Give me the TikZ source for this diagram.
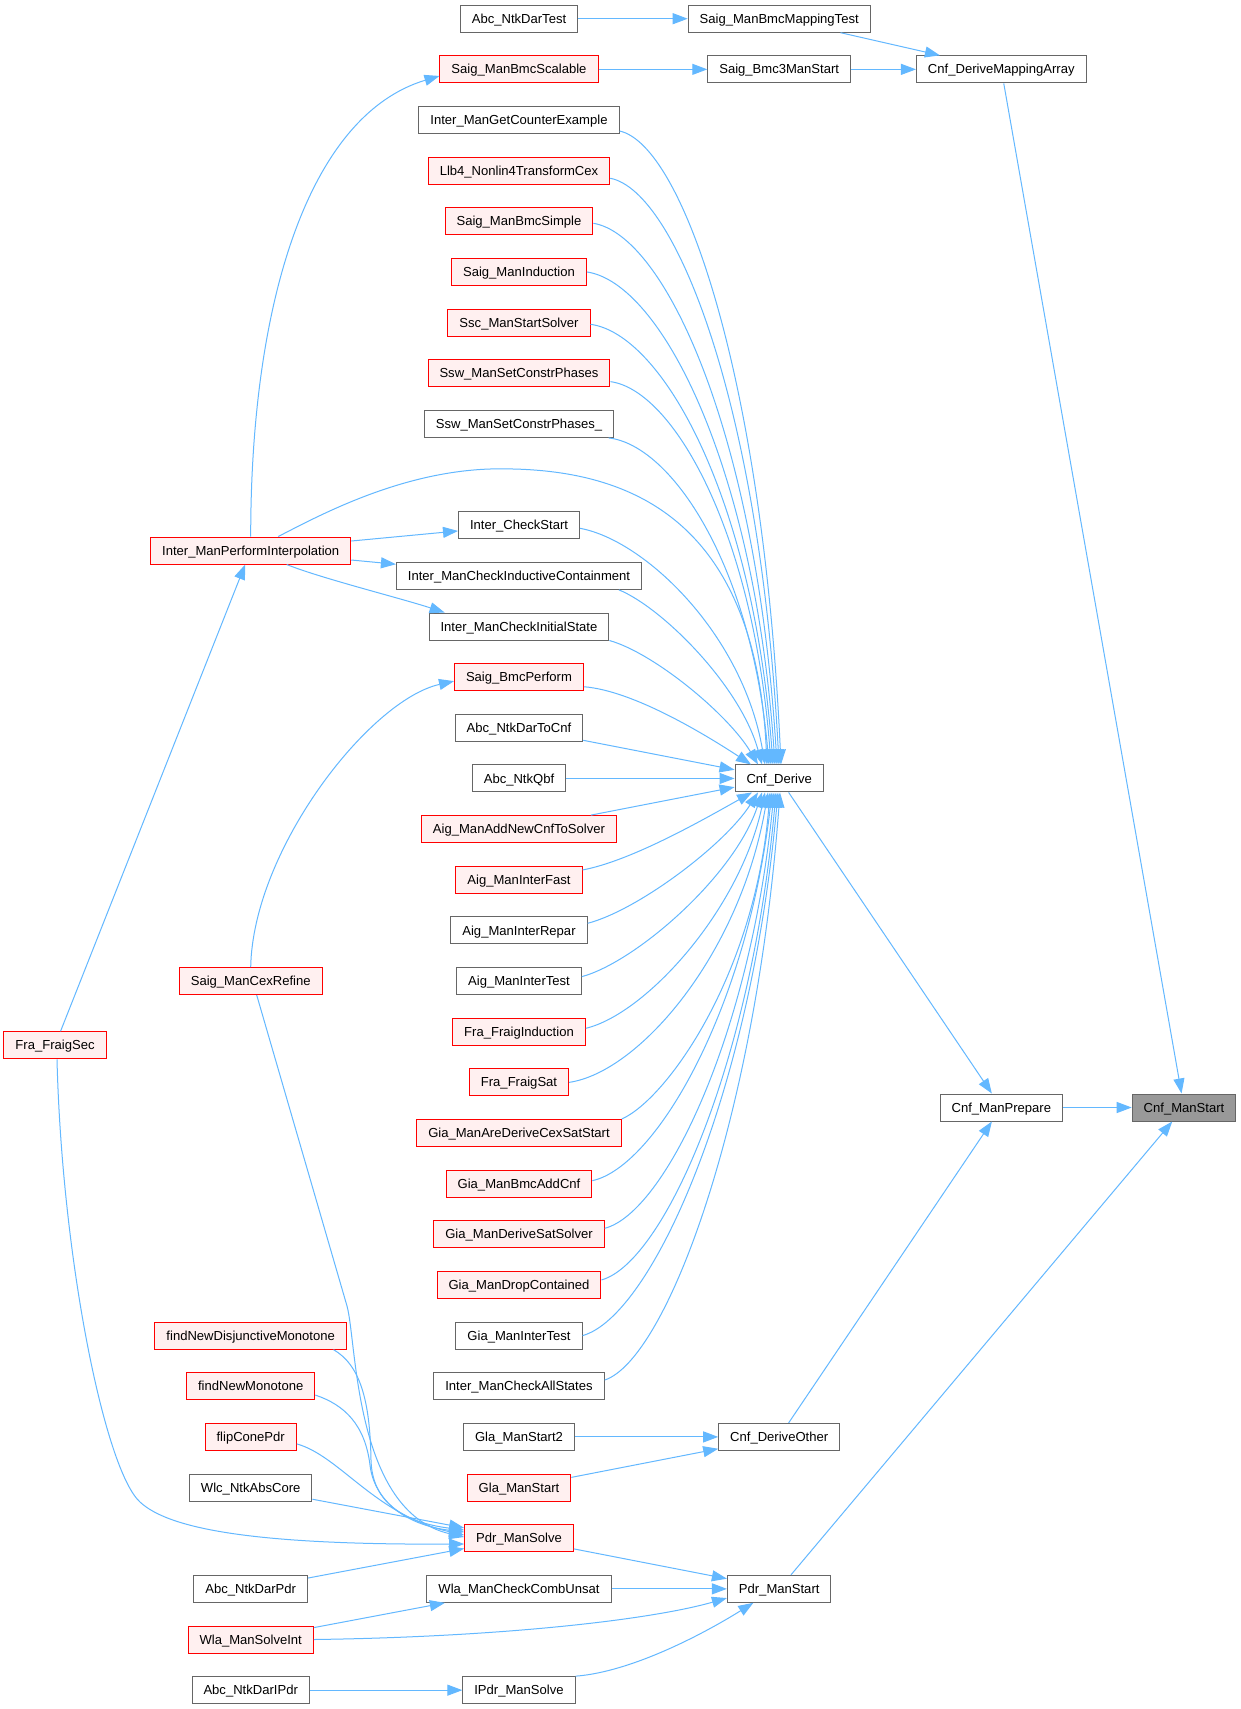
\documentclass[tikz,border=0pt]{standalone}
\usepackage{fontspec}
\setmainfont{Liberation Sans}
\usetikzlibrary{arrows.meta}
\definecolor{edgec}{HTML}{63B8FF}
\definecolor{bgray}{HTML}{666666}
\definecolor{redb}{HTML}{FF0000}
\definecolor{redf}{HTML}{FFF0F0}
\definecolor{rootf}{HTML}{999999}
\begin{document}
\begin{tikzpicture}[x=0.5pt,y=-0.5pt,
  box/.style={draw=bgray, line width=0.5pt, fill=white, font=\fontsize{6.53}{7.8}\selectfont,
    inner xsep=5.75pt, inner ysep=0pt, minimum height=13.5pt, text height=5.2pt, text depth=0.6pt},
  redbox/.style={box, draw=redb, fill=redf},
  rootbox/.style={box, fill=rootf},
  edg/.style={draw=edgec, line width=0.5pt, -{Triangle[length=7.5pt,width=5.5pt]}}]
\fill[white] (0,0) rectangle (1241,1709);
\useasboundingbox (0,0) rectangle (1241,1709);

% column C (x=519)
\node[box]    (adt)   at (519,18.7)    {Abc\_NtkDarTest};
\node[redbox] (sbs)   at (519,69.35)   {Saig\_ManBmcScalable};
\node[box]    (igce)  at (519,120.0)   {Inter\_ManGetCounterExample};
\node[redbox] (llb)   at (519,170.65)  {Llb4\_Nonlin4TransformCex};
\node[redbox] (sbsim) at (519,221.3)   {Saig\_ManBmcSimple};
\node[redbox] (sind)  at (519,271.95)  {Saig\_ManInduction};
\node[redbox] (ssc)   at (519,322.6)   {Ssc\_ManStartSolver};
\node[redbox] (sswa)  at (519,373.25)  {Ssw\_ManSetConstrPhases};
\node[box]    (sswb)  at (519,423.9)   {Ssw\_ManSetConstrPhases\_};
\node[box]    (ics)   at (519,525.2)   {Inter\_CheckStart};
\node[box]    (icic)  at (519,575.85)  {Inter\_ManCheckInductiveContainment};
\node[box]    (icis)  at (519,626.5)   {Inter\_ManCheckInitialState};
\node[redbox] (sbp)   at (519,677.15)  {Saig\_BmcPerform};
\node[box]    (adtc)  at (519,727.8)   {Abc\_NtkDarToCnf};
\node[box]    (aqbf)  at (519,778.45)  {Abc\_NtkQbf};
\node[redbox] (aanc)  at (519,829.1)   {Aig\_ManAddNewCnfToSolver};
\node[redbox] (aif)   at (519,879.75)  {Aig\_ManInterFast};
\node[box]    (air)   at (519,930.4)   {Aig\_ManInterRepar};
\node[box]    (ait)   at (519,981.05)  {Aig\_ManInterTest};
\node[redbox] (ffi)   at (519,1031.7)  {Fra\_FraigInduction};
\node[redbox] (fsat)  at (519,1082.35) {Fra\_FraigSat};
\node[redbox] (gad)   at (519,1133.0)  {Gia\_ManAreDeriveCexSatStart};
\node[redbox] (gbac)  at (519,1183.65) {Gia\_ManBmcAddCnf};
\node[redbox] (gdss)  at (519,1234.3)  {Gia\_ManDeriveSatSolver};
\node[redbox] (gdc)   at (519,1284.95) {Gia\_ManDropContained};
\node[box]    (git)   at (519,1335.6)  {Gia\_ManInterTest};
\node[box]    (icas)  at (519,1386.25) {Inter\_ManCheckAllStates};
\node[box]    (gls2)  at (519,1436.9)  {Gla\_ManStart2};
\node[redbox] (gls)   at (519,1487.55) {Gla\_ManStart};
\node[redbox] (pms)   at (519,1538.2)  {Pdr\_ManSolve};
\node[box]    (wcc)   at (519,1588.85) {Wla\_ManCheckCombUnsat};
\node[box]    (ipdr)  at (519,1690.15) {IPdr\_ManSolve};

% column B (x=250.7)
\node[redbox] (imp)   at (250.7,550.5)   {Inter\_ManPerformInterpolation};
\node[redbox] (scr)   at (250.7,981.05)  {Saig\_ManCexRefine};
\node[redbox] (fndm)  at (250.7,1335.6)  {findNewDisjunctiveMonotone};
\node[redbox] (fnm)   at (250.7,1386.25) {findNewMonotone};
\node[redbox] (fcp)   at (250.7,1436.9)  {flipConePdr};
\node[box]    (wac)   at (250.7,1487.55) {Wlc\_NtkAbsCore};
\node[box]    (adp)   at (250.7,1588.85) {Abc\_NtkDarPdr};
\node[redbox] (wsi)   at (250.7,1639.5)  {Wla\_ManSolveInt};
\node[box]    (adip)  at (250.7,1690.15) {Abc\_NtkDarIPdr};

% column A
\node[redbox] (ffs)   at (55,1045.3) {Fra\_FraigSec};

% column D (x=779.2)
\node[box] (smbmt) at (779.2,18.7)    {Saig\_ManBmcMappingTest};
\node[box] (sb3)   at (779.2,69.35)   {Saig\_Bmc3ManStart};
\node[box] (cd)    at (779.2,778.45)  {Cnf\_Derive};
\node[box] (cdo)   at (779.2,1436.9)  {Cnf\_DeriveOther};
\node[box] (pst)   at (779.2,1588.85) {Pdr\_ManStart};

% column E, F
\node[box]     (cdma) at (1001.3,69.35)  {Cnf\_DeriveMappingArray};
\node[box]     (cmp)  at (1001.3,1107.5) {Cnf\_ManPrepare};
\node[rootbox] (cms)  at (1184,1107.5)   {Cnf\_ManStart};

% straight connectors
\draw[edg] (adt) -- (smbmt);
\draw[edg] (smbmt) -- (cdma);
\draw[edg] (sbs) -- (sb3);
\draw[edg] (sb3) -- (cdma);
\draw[edg] (cdma) -- (cms);
\draw[edg] (imp) -- (ics);
\draw[edg] (imp) -- (icic);
\draw[edg] (adtc) -- (cd);
\draw[edg] (aqbf) -- (cd);
\draw[edg] (aanc) -- (cd);
\draw[edg] (cd) -- (cmp);
\draw[edg] (cmp) -- (cms);
\draw[edg] (ffs) -- (imp);
\draw[edg] (gls2) -- (cdo);
\draw[edg] (gls) -- (cdo);
\draw[edg] (cdo) -- (cmp);
\draw[edg] (wac) -- (pms);
\draw[edg] (adp) -- (pms);
\draw[edg] (pms) -- (pst);
\draw[edg] (wcc) -- (pst);
\draw[edg] (wsi) -- (wcc);
\draw[edg] (adip) -- (ipdr);
\draw[edg] (pst) -- (cms);

% upper curves into Cnf_Derive
\draw[edg] ([yshift=-5.5pt]igce.east) .. controls +(63.5,14) and +(-17.9,-386.7) .. ([xshift=0.9pt]cd.north);
\draw[edg] ([yshift=-3.8pt]llb.east) .. controls +(66.2,12.9) and +(-18.7,-357.9) .. ([xshift=-0.1pt]cd.north);
\draw[edg] ([yshift=-1pt]sbsim.east) .. controls +(71.9,11.9) and +(-20.3,-330.4) .. ([xshift=-1.1pt]cd.north);
\draw[edg] (sind.east) .. controls +(73.8,10.8) and +(-20.8,-300.3) .. ([xshift=-2.1pt]cd.north);
\draw[edg] ([yshift=-0.85pt]ssc.east) .. controls +(71.4,9.7) and +(-20.1,-268.8) .. ([xshift=-3.1pt]cd.north);
\draw[edg] ([yshift=-4.2pt]sswa.east) .. controls +(62.5,8.4) and +(-17.6,-233.8) .. ([xshift=-4.1pt]cd.north);
\draw[edg] ([xshift=-2.75pt]sswb.south east) .. controls +(62.8,7.2) and +(-17.7,-199.9) .. ([xshift=-5.1pt]cd.north);
\draw[edg] ([xshift=13.8pt]imp.north) .. controls (320,515) and (400,472) .. (490,469) .. controls (620,466) and (755,510) .. ([xshift=-6.1pt]cd.north);
\draw[edg] ([yshift=-1.55pt]ics.east) .. controls +(64.75,11.8) and +(-22.2,-130.2) .. ([xshift=-7.1pt]cd.north);
\draw[edg] ([xshift=-11.6pt]icic.south east) .. controls +(43.1,17.5) and +(-21.6,-78.75) .. ([xshift=-8.6pt]cd.north);
\draw[edg] (icis.south east) .. controls +(44.6,12.5) and +(-29.7,-50) .. ([xshift=-10.6pt]cd.north);
\draw[edg] ([yshift=-4.8pt]sbp.east) .. controls +(50.5,3.9) and +(-42.1,-27.5) .. ([xshift=-14.1pt]cd.north);

% lower curves into Cnf_Derive
\draw[edg] ([yshift=4.9pt]aif.east) .. controls +(50.7,-9.4) and +(-42.25,23.4) .. ([xshift=-13.6pt]cd.south);
\draw[edg] ([yshift=3.55pt]air.east) .. controls +(50.3,-13.1) and +(-33.5,52.5) .. ([xshift=-10.6pt]cd.south);
\draw[edg] ([yshift=2.2pt]ait.east) .. controls +(54.3,-14.8) and +(-27.2,83.1) .. ([xshift=-8.6pt]cd.south);
\draw[edg] ([yshift=1.7pt]ffi.east) .. controls +(59.7,-14.2) and +(-25.3,118.1) .. ([xshift=-7.1pt]cd.south);
\draw[edg] (fsat.east) .. controls +(70,-10.1) and +(-28,162.2) .. ([xshift=-5.6pt]cd.south);
\draw[edg] (gad.north east) .. controls +(44.5,-19.6) and +(-14.8,183.3) .. ([xshift=-4.6pt]cd.south);
\draw[edg] ([yshift=1.5pt]gbac.east) .. controls +(63.1,-13.6) and +(-25.2,217.7) .. ([xshift=-3.6pt]cd.south);
\draw[edg] ([yshift=3pt]gdss.east) .. controls +(59.7,-15.3) and +(-23.9,244.3) .. ([xshift=-2.6pt]cd.south);
\draw[edg] ([yshift=2.5pt]gdc.east) .. controls +(61.8,-17.1) and +(-24.7,273.3) .. ([xshift=-1.6pt]cd.south);
\draw[edg] (git.east) .. controls +(68.7,-19) and +(-27.5,304.1) .. ([xshift=-0.6pt]cd.south);
\draw[edg] ([yshift=3.1pt]icas.east) .. controls +(61.5,-20.6) and +(-24.6,329.3) .. ([xshift=0.4pt]cd.south);

% other curves
\draw[edg] (imp.north) .. controls +(0,-237) and +(-130,39) .. ([yshift=-3.3pt]sbs.west);
\draw[edg] ([xshift=18pt]imp.south) .. controls (320,578) and (400,598) .. ([xshift=8pt]icis.north west);
\draw[edg] (scr.north) .. controls +(2.3,-117.5) and +(-84.6,18.85) .. ([yshift=-2pt]sbp.west);
\draw[edg] ([xshift=3pt]scr.south) -- (347,1306) .. controls (357,1342) and (354,1512) .. ([yshift=0.6pt]pms.west);
\draw[edg] ([xshift=1pt]ffs.south) .. controls (62,1260) and (105,1470) .. (140,1502) .. controls (170,1530) and (260,1545) .. ([yshift=-2.9pt]pms.west);
\draw[edg] ([xshift=-6.7pt]fndm.south east) .. controls (360,1365) and (370,1400) .. (371,1460) .. controls (372,1500) and (400,1522) .. ([yshift=4.1pt]pms.west);
\draw[edg] ([yshift=-4.4pt]fnm.east) .. controls (345,1405) and (365,1425) .. (370,1465) .. controls (374,1500) and (405,1525) .. ([yshift=3.1pt]pms.west);
\draw[edg] ([yshift=-3.5pt]fcp.east) .. controls (340,1456) and (375,1515) .. ([yshift=1.6pt]pms.west);
\draw[edg] (wsi.east) .. controls (500,1637) and (650,1620) .. ([yshift=-4.6pt]pst.west);
\draw[edg] (ipdr.north east) .. controls (630,1672) and (700,1636) .. ([xshift=-12.95pt]pst.south);
\end{tikzpicture}
\end{document}
